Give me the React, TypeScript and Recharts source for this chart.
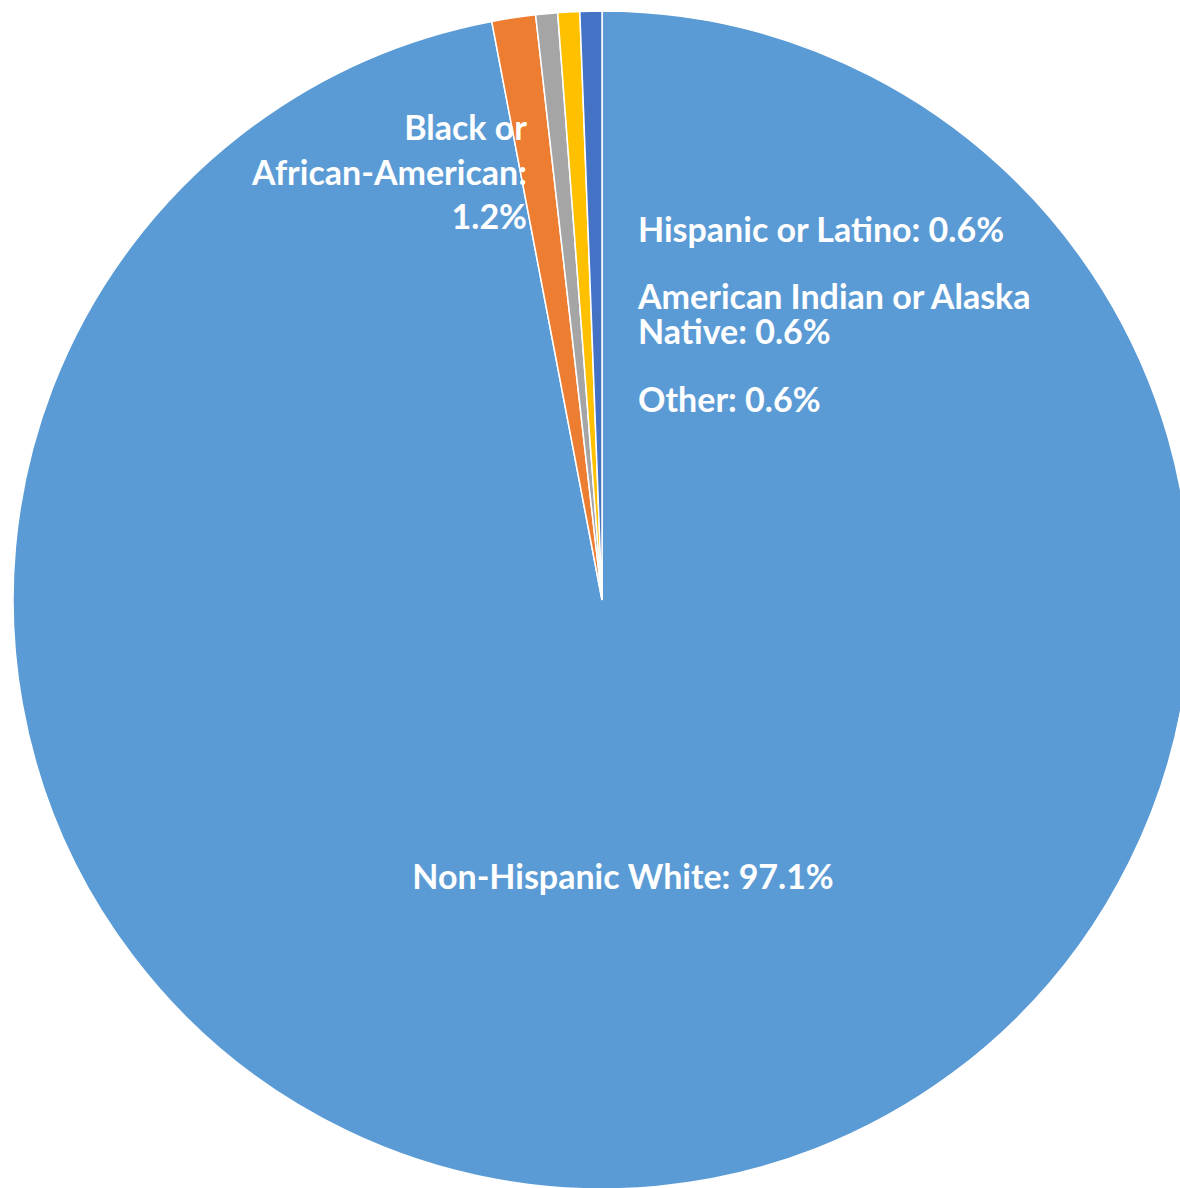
import { PieChart, Pie, Cell } from 'recharts'

const groups = ['Non-Hispanic White', 'Black or African-American', 'Hispanic or Latino', 'American Indian or Alaska Native', 'Other']
const shares = [97.1, 1.2, 0.6, 0.6, 0.6]
const colors = ['#5B9BD5', '#ED7D31', '#A5A5A5', '#FFC000', '#4472C4']

// hand placed labels, like the original
const labelLayout = [
  { x: 623, y: 889, anchor: 'middle', lines: [5], lh: 0 },
  { x: 527, y: 140, anchor: 'end', lines: [2, 1, 1], lh: 44.5 },
  { x: 638, y: 242, anchor: 'start', lines: [5], lh: 0 },
  { x: 638, y: 309, anchor: 'start', lines: [4, 2], lh: 34.5 },
  { x: 638, y: 412, anchor: 'start', lines: [2], lh: 0 },
]

const data = groups.map((name, i) => ({ name, value: shares[i] }))

const W = 1180
const H = 1188
const FONT = 'Lato, "Open Sans", sans-serif'

function renderLabel(props: any) {
  const i = props.index
  const lay = labelLayout[i]
  if (!lay) return null
  const words = `${groups[i]}: ${shares[i].toFixed(1)}%`.split(' ')
  const rows: string[] = []
  let k = 0
  for (const n of lay.lines) {
    rows.push(words.slice(k, k + n).join(' '))
    k += n
  }
  return (
    <text
      key={i}
      x={lay.x}
      y={lay.y}
      textAnchor={lay.anchor as any}
      fill="#fff"
      fontFamily={FONT}
      fontWeight={700}
      fontSize={34}
    >
      {rows.map((r, j) => (
        <tspan key={j} x={lay.x} dy={j === 0 ? 0 : lay.lh}>{r}</tspan>
      ))}
    </text>
  )
}

export default function App() {
  return (
    <div style={{ position: 'absolute', left: 0, top: 0, width: W, height: H, background: '#fff', overflow: 'hidden' }}>
      <PieChart width={W} height={H} margin={{ top: 0, right: 0, bottom: 0, left: 0 }}>
        <Pie
          data={data}
          dataKey="value"
          nameKey="name"
          cx={602}
          cy={600}
          outerRadius={589}
          startAngle={90}
          endAngle={-270}
          stroke="#fff"
          strokeWidth={1.5}
          labelLine={false}
          label={renderLabel}
          isAnimationActive={false}
        >
          {data.map((d, i) => (
            <Cell key={d.name} fill={colors[i]} />
          ))}
        </Pie>
      </PieChart>
    </div>
  )
}
